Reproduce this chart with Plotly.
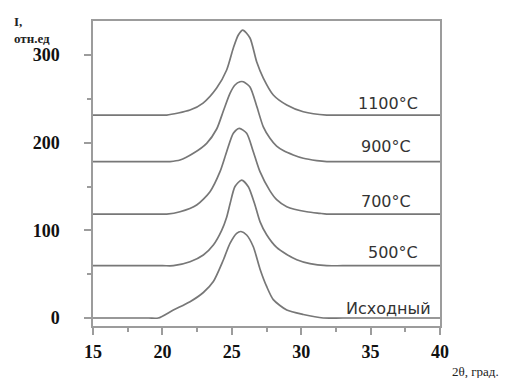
import plotly.graph_objects as go

# XRD profiles (2theta in degrees, intensity in rel. units)
tt_initial = [15, 19.00, 19.70, 20.79, 21.99, 22.95, 23.67, 24.39, 24.87, 25.35, 25.66, 26.07, 26.55, 27.03, 27.51, 27.99, 28.96, 30.15, 31.59, 33.0, 40]
i_initial = [0, 0, 0, 9.1, 18.6, 29.1, 41.6, 66.2, 85.2, 96.6, 98.7, 94.7, 81.3, 56.0, 36.0, 21.0, 9.1, 4.0, 0, 0, 0]

tt_500 = [15, 20.0, 20.79, 21.99, 22.95, 23.67, 24.27, 24.63, 24.87, 25.23, 25.71, 26.19, 26.67, 27.03, 27.51, 28.23, 28.96, 29.68, 30.63, 31.84, 33.0, 40]
i_500 = [59.7, 59.7, 59.7, 64.2, 71.9, 83.3, 100.0, 115.0, 130.0, 150.0, 157.4, 149.8, 128.9, 110.0, 95.0, 80.5, 72.5, 66.5, 62.0, 59.7, 59.7, 59.7]

tt_700 = [15, 19.5, 20.31, 21.27, 22.47, 23.43, 24.15, 24.63, 25.11, 25.54, 26.07, 26.55, 27.03, 27.75, 28.23, 28.96, 30.40, 31.35, 31.84, 33.0, 40]
i_700 = [118.6, 118.6, 118.6, 121.2, 128.9, 144.1, 166.9, 189.7, 210.7, 216.4, 210.7, 189.7, 166.9, 145.0, 135.0, 127.0, 121.2, 119.4, 118.6, 118.6, 118.6]

tt_900 = [15, 19.8, 20.55, 21.27, 22.23, 23.19, 23.91, 24.39, 24.87, 25.23, 25.59, 25.83, 26.31, 26.79, 27.27, 27.75, 28.23, 28.71, 29.43, 30.15, 31.12, 31.84, 33.0, 40]
i_900 = [178.5, 178.5, 178.5, 180.2, 187.9, 199.3, 215.6, 236.1, 256.3, 265.8, 269.5, 269.5, 263.5, 241.8, 218.0, 205.0, 196.0, 191.0, 186.0, 182.2, 179.6, 178.5, 178.5, 178.5]

tt_1100 = [15, 19.5, 20.31, 21.99, 22.93, 23.91, 24.63, 25.11, 25.47, 25.79, 26.31, 26.79, 27.27, 27.99, 28.96, 30.15, 31.84, 33.0, 40]
i_1100 = [231.5, 231.5, 231.5, 237.2, 245.2, 262.3, 282.9, 308.0, 322.8, 328.5, 319.4, 292.3, 273.7, 254.4, 243.0, 235.3, 231.5, 231.5, 231.5]

labels = ["1100°C", "900°C", "700°C", "500°C", "Исходный"]
label_x = [38.56, 38.05, 38.05, 38.56, 39.50]
label_y = [245.2, 195.4, 132.7, 74.9, 11.1]

curve_color = "#777777"
frame_color = "#9c9c9c"
serif = "Liberation Serif"

fig = go.Figure()
for xs, ys in [(tt_initial, i_initial), (tt_500, i_500), (tt_700, i_700),
               (tt_900, i_900), (tt_1100, i_1100)]:
    fig.add_trace(go.Scatter(x=xs, y=ys, mode="lines",
                             line=dict(color=curve_color, width=1.7, shape="spline", smoothing=0.7),
                             showlegend=False, hoverinfo="skip"))

for txt, lx, ly in zip(labels, label_x, label_y):
    fig.add_annotation(x=lx, y=ly, text=txt, showarrow=False, xanchor="right",
                       font=dict(family="DejaVu Sans", size=16, color="#333333"))

# axis titles placed like in the original picture
fig.add_annotation(xref="paper", yref="paper", x=-0.232, y=1.03, text="I,<br>отн.ед",
                   showarrow=False, xanchor="left", yanchor="top", align="left",
                   font=dict(family=serif, size=13, color="#222222", weight="bold"))
fig.add_annotation(xref="paper", yref="paper", x=1.03, y=-0.15, text="2θ, град.",
                   showarrow=False, xanchor="left", yanchor="middle",
                   font=dict(family=serif, size=13, color="#222222"))

fig.update_xaxes(range=[15, 40], dtick=5, tick0=15, showline=True, mirror=True,
                 linecolor=frame_color, linewidth=1.5, ticks="outside", ticklen=7,
                 tickcolor=frame_color, tickwidth=1.5, showgrid=False, zeroline=False,
                 ticklabelstandoff=2,
                 tickfont=dict(family=serif, size=18, color="#111111", weight="bold"),
                 minor=dict(dtick=2.5, ticks="outside", ticklen=4, tickcolor=frame_color,
                            tickwidth=1.5, showgrid=False))
fig.update_yaxes(range=[-9.1, 338.8], dtick=100, tick0=0, showline=True, mirror=True,
                 linecolor=frame_color, linewidth=1.5, ticks="outside", ticklen=7,
                 tickcolor=frame_color, tickwidth=1.5, showgrid=False, zeroline=False,
                 ticklabelstandoff=21,
                 tickfont=dict(family=serif, size=18, color="#111111", weight="bold"),
                 minor=dict(dtick=50, ticks="outside", ticklen=4, tickcolor=frame_color,
                            tickwidth=1.5, showgrid=False))

# the page adds an 8px body margin, so the figure is drawn 8px in and smaller
fig.update_layout(width=515, height=370, margin=dict(l=85, r=83, t=13, b=52),
                  paper_bgcolor="white", plot_bgcolor="white")

fig.write_html("out.html")
